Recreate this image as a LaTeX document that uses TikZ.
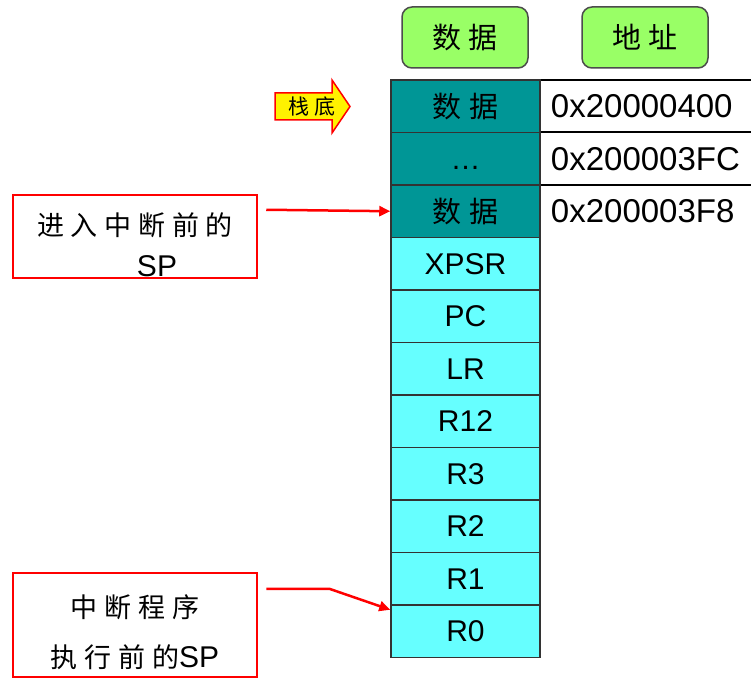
\documentclass[tikz,border=0pt]{standalone}
\usepackage{fontspec}
\setmainfont{Liberation Sans}
\newfontfamily\cjk[LetterSpace=25]{Noto Sans CJK SC}
\usetikzlibrary{arrows.meta}

\definecolor{stackdark}{RGB}{0,150,150}
\definecolor{stacklight}{RGB}{102,255,255}
\definecolor{headgreen}{RGB}{153,255,102}

\tikzset{
  headbox/.style={draw=black!70, line width=1.5pt, rounded corners=10pt, fill=headgreen,
    minimum width=126pt, minimum height=61pt, font=\cjk\fontsize{29}{32}\selectfont},
  slot/.style={draw=black!80, line width=1.5pt, minimum width=149pt, minimum height=52.5pt,
    inner sep=0pt, font=\fontsize{30}{34}\selectfont},
  addrcell/.style={anchor=west, minimum height=52.5pt, text width=191pt, inner xsep=10pt,
    inner ysep=0pt, align=left, font=\fontsize{33}{36}\selectfont},
  note/.style={draw=red, line width=2.5pt, minimum width=244pt, inner ysep=2pt, align=center},
  pointer/.style={red, line width=2.5pt, -{Triangle[length=11pt,width=10pt]}},
}

\begin{document}
\begin{tikzpicture}[x=1pt, y=-1pt]
    \useasboundingbox (0,0) rectangle (751,679);

    % column headers
    \node[headbox] (hdata) at (465,37.5) {数据};
    \node[headbox] (haddr) at (645,37.5) {地址};

    % the stack, top (high address) to bottom
    \foreach \txt/\col [count=\i] in {{\cjk\fontsize{29}{32}\selectfont 数据}/stackdark,
        {\vphantom{X}\dots}/stackdark, {\cjk\fontsize{29}{32}\selectfont 数据}/stackdark,
        XPSR/stacklight, PC/stacklight, LR/stacklight, R12/stacklight,
        R3/stacklight, R2/stacklight, R1/stacklight, R0/stacklight}
        \node[slot, fill=\col] (row\i) at (465.5, {80+52.5*(\i-0.5)}) {\txt};

    % addresses of the first three words
    \foreach \adr [count=\i] in {0x20000400, 0x200003FC, 0x200003F8} {
        \node[addrcell] (addr\i) at (row\i.east) {\adr};
        \draw[line width=2pt] (addr\i.north west) -- (addr\i.north east);
    }

    % stack base marker
    \draw[red, line width=1.5pt, fill=yellow]
        (275,93) -- (332,93) -- (332,80) -- (350,106.5) -- (332,133) -- (332,120) -- (275,120) -- cycle;
    \node (base) at (312,107) {\cjk\fontsize{21}{24}\selectfont 栈底};

    % SP before the interrupt
    \node[note, minimum height=83pt, text height=79pt, text depth=0pt,
          font=\fontsize{30}{41}\selectfont] (entry) at (135,236.5)
        {{\cjk\fontsize{27}{41}\selectfont 进入中断前的}\\\hspace*{44pt}SP};
    \draw[pointer] ([xshift=8pt,yshift=-16pt]entry.north east) -- (row3.west);

    % SP before the handler runs
    \node[note, minimum height=104pt, text height=84pt, text depth=0pt,
          font=\fontsize{30}{50}\selectfont] (handler) at (135,625)
        {{\cjk\fontsize{27}{50}\selectfont 中断程序}\\{\cjk\fontsize{27}{50}\selectfont 执行前的}SP};
    \draw[pointer] ([xshift=8pt,yshift=-17pt]handler.north east) -- ++(63,0)
        -- ([yshift=-5.5pt]row11.north west);
\end{tikzpicture}
\end{document}
